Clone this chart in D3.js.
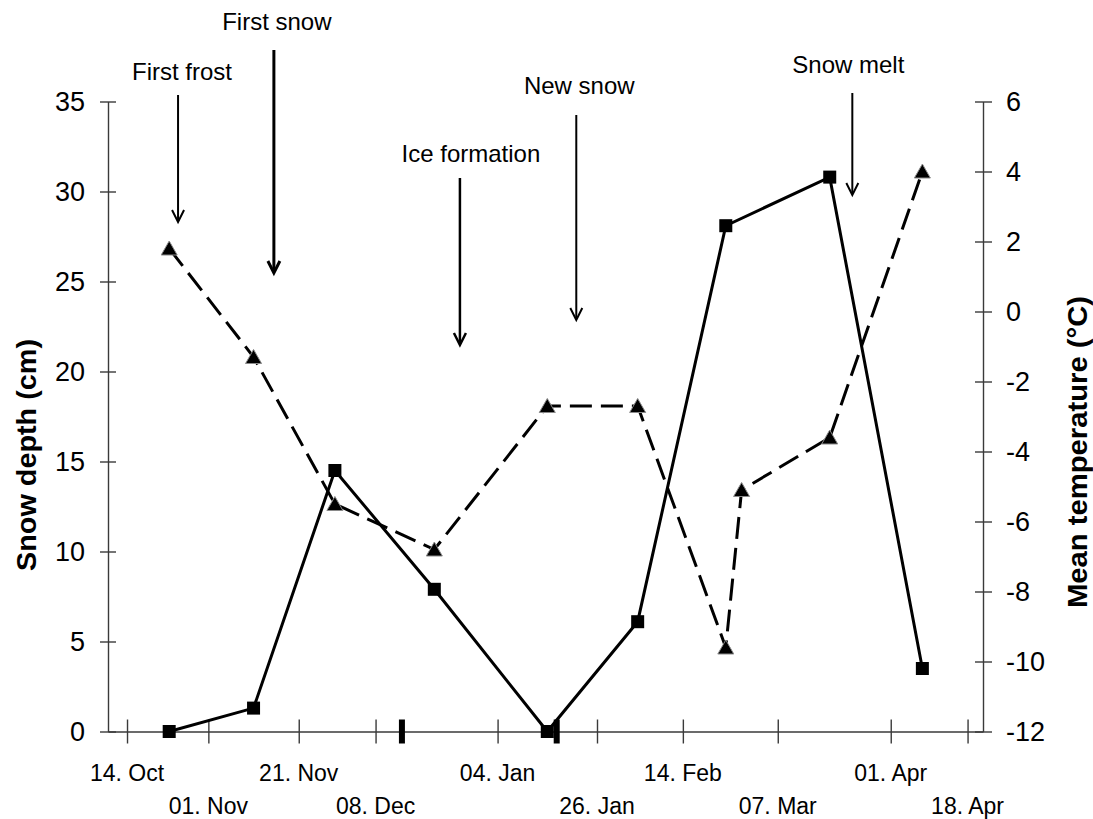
<!DOCTYPE html>
<html>
<head>
<meta charset="utf-8">
<script src="https://cdn.jsdelivr.net/npm/d3@7"></script>
<style>
  html, body { margin: 0; padding: 0; background: #fff; }
  svg { display: block; }
  text { font-family: "Liberation Sans", Arial, sans-serif; fill: #000; }
</style>
</head>
<body>
<svg id="chart" width="1093" height="819"></svg>
<script>
// ---------- data ----------
const tickDates  = ["2010-10-14","2010-11-01","2010-11-21","2010-12-08","2011-01-04","2011-01-26","2011-02-14","2011-03-07","2011-04-01","2011-04-18"];
const tickLabels = ["14. Oct","01. Nov","21. Nov","08. Dec","04. Jan","26. Jan","14. Feb","07. Mar","01. Apr","18. Apr"];
const markerDates = ["2010-12-13T20:00","2011-01-17T02:00"];

const snowDates  = ["2010-10-23T08:00","2010-11-11","2010-11-29","2010-12-21","2011-01-15","2011-02-04","2011-02-23T12:00","2011-03-18T12:00","2011-04-08"];
const snowDepth  = [0, 1.3, 14.5, 7.9, 0, 6.1, 28.1, 30.8, 3.5];

const tempDates  = ["2010-10-23T08:00","2010-11-11","2010-11-29","2010-12-21","2011-01-15","2011-02-04","2011-02-23T12:00","2011-02-27","2011-03-18T12:00","2011-04-08"];
const meanTemp   = [1.8, -1.3, -5.5, -6.8, -2.7, -2.7, -9.6, -5.1, -3.6, 4.0];

const leftTicks  = [0, 5, 10, 15, 20, 25, 30, 35];
const rightTicks = [-12, -10, -8, -6, -4, -2, 0, 2, 4, 6];

const eventLabels = ["First frost", "First snow", "Ice formation", "New snow", "Snow melt"];
const eventDates  = ["2010-10-25T07:00","2010-11-15T12:00","2010-12-26T16:00","2011-01-21T10:00","2011-03-23T12:00"];

// ---------- layout ----------
const parse = s => new Date(s.length === 10 ? s + "T00:00" : s);
const eventLayout = [
  {textY: 80,  y1: 95,  y2: 222, w: 2,   dx: 4},
  {textY: 30,  y1: 50,  y2: 273, w: 3,   dx: 3},
  {textY: 162, y1: 178, y2: 345, w: 2.5, dx: 11},
  {textY: 94,  y1: 115, y2: 320, w: 2,   dx: 3},
  {textY: 73,  y1: 93,  y2: 195, w: 2,   dx: -4}
];

const svg = d3.select("#chart");
const X0 = 108, X1 = 983, YB = 731.5, YT = 101.5;

const x = d3.scaleTime()
  .domain([parse("2010-10-09T19:00"), parse("2011-04-21T10:00")])
  .range([X0, X1]);
const yL = d3.scaleLinear().domain([0, 35]).range([YB, YT]);
const yR = d3.scaleLinear().domain([-12, 6]).range([YB, YT]);

const axisColor = "#3a3a3a";

// ---------- x axis ----------
const gx = svg.append("g").attr("transform", `translate(0,${YB})`)
  .call(d3.axisBottom(x).tickValues(tickDates.map(parse)).tickSize(0).tickFormat(""));
gx.select(".domain").attr("stroke", axisColor).attr("stroke-width", 1.6);
gx.selectAll(".tick line").attr("y1", -12).attr("y2", 12)
  .attr("stroke", axisColor).attr("stroke-width", 1.4);

svg.append("g").selectAll("text").data(tickLabels).join("text")
  .attr("x", (d, i) => x(parse(tickDates[i])))
  .attr("y", (d, i) => i % 2 === 0 ? 781 : 814)
  .attr("text-anchor", "middle")
  .attr("font-size", 23)
  .text(d => d);

// thick markers on x axis
svg.append("g").selectAll("rect").data(markerDates).join("rect")
  .attr("x", d => x(parse(d)) - 3)
  .attr("y", YB - 12)
  .attr("width", 6)
  .attr("height", 24)
  .attr("fill", "#000");

// ---------- left axis ----------
const gl = svg.append("g").attr("transform", `translate(${X0},0)`)
  .call(d3.axisLeft(yL).tickValues(leftTicks).tickSize(0).tickFormat(""));
gl.select(".domain").attr("stroke", axisColor).attr("stroke-width", 1.4);
gl.selectAll(".tick line").attr("x1", -8).attr("x2", 8)
  .attr("stroke", axisColor).attr("stroke-width", 1.4);
svg.append("g").selectAll("text").data(leftTicks).join("text")
  .attr("x", 85).attr("y", d => yL(d)).attr("dy", "0.36em")
  .attr("text-anchor", "end").attr("font-size", 27)
  .text(d => d);

// ---------- right axis ----------
const gr = svg.append("g").attr("transform", `translate(${X1},0)`)
  .call(d3.axisRight(yR).tickValues(rightTicks).tickSize(0).tickFormat(""));
gr.select(".domain").attr("stroke", axisColor).attr("stroke-width", 1.4);
gr.selectAll(".tick line").attr("x1", -8).attr("x2", 9)
  .attr("stroke", axisColor).attr("stroke-width", 1.4);
svg.append("g").selectAll("text").data(rightTicks).join("text")
  .attr("x", 1006).attr("y", d => yR(d)).attr("dy", "0.36em")
  .attr("text-anchor", "start").attr("font-size", 27)
  .text(d => d);

// ---------- axis titles ----------
svg.append("text")
  .attr("transform", `translate(36,455) rotate(-90)`)
  .attr("text-anchor", "middle").attr("font-size", 27).attr("font-weight", "bold")
  .attr("textLength", 232).attr("lengthAdjust", "spacingAndGlyphs")
  .text("Snow depth (cm)");
svg.append("text")
  .attr("transform", `translate(1087,452) rotate(-90)`)
  .attr("text-anchor", "middle").attr("font-size", 27).attr("font-weight", "bold")
  .attr("textLength", 312).attr("lengthAdjust", "spacingAndGlyphs")
  .text("Mean temperature (°C)");

// ---------- series ----------
const snowPts = snowDates.map((d, i) => ({date: parse(d), v: snowDepth[i]}));
const tempPts = tempDates.map((d, i) => ({date: parse(d), v: meanTemp[i]}));

svg.append("path").datum(tempPts)
  .attr("fill", "none").attr("stroke", "#000").attr("stroke-width", 3)
  .attr("stroke-dasharray", "22,9")
  .attr("d", d3.line().x(d => x(d.date)).y(d => yR(d.v)));

svg.append("path").datum(snowPts)
  .attr("fill", "none").attr("stroke", "#000").attr("stroke-width", 3)
  .attr("d", d3.line().x(d => x(d.date)).y(d => yL(d.v)));

svg.append("g").selectAll("path").data(tempPts).join("path")
  .attr("transform", d => `translate(${x(d.date)},${yR(d.v)})`)
  .attr("d", "M0,-7.5L8,6.5L-8,6.5Z")
  .attr("fill", "#000").attr("stroke", "#8a8a8a").attr("stroke-width", 1);

svg.append("g").selectAll("rect").data(snowPts).join("rect")
  .attr("x", d => x(d.date) - 6.5).attr("y", d => yL(d.v) - 6.5)
  .attr("width", 13).attr("height", 13).attr("fill", "#000");

// ---------- event annotations ----------
const ev = svg.append("g");
eventLabels.forEach((lab, i) => {
  const L = eventLayout[i];
  const ex = x(parse(eventDates[i]));
  ev.append("text").attr("x", ex + L.dx).attr("y", L.textY)
    .attr("text-anchor", "middle").attr("font-size", 24).text(lab);
  ev.append("line").attr("x1", ex).attr("x2", ex).attr("y1", L.y1).attr("y2", L.y2 - 1)
    .attr("stroke", "#000").attr("stroke-width", L.w);
  ev.append("path")
    .attr("d", `M${ex - 6},${L.y2 - 12}L${ex},${L.y2}L${ex + 6},${L.y2 - 12}`)
    .attr("fill", "none").attr("stroke", "#000").attr("stroke-width", L.w)
    .attr("stroke-linejoin", "miter");
});
</script>
</body>
</html>
